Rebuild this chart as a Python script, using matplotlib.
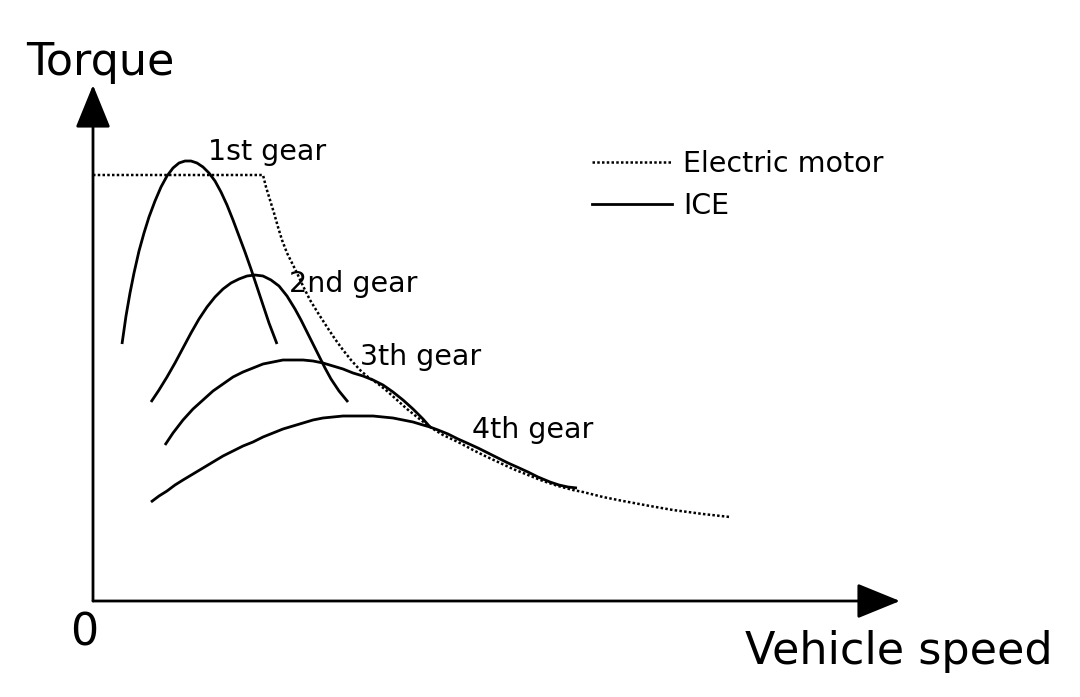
import matplotlib.pyplot as plt
from matplotlib.lines import Line2D

# data (speed, torque)
#
em_speed = [0, 170, 173, 177, 181, 185, 189, 194, 199, 204, 210, 217, 225, 234,
            242, 250, 258, 267, 275, 284, 294, 304, 314, 324, 337, 350, 365, 380,
            390, 405, 420, 435, 450, 465, 480, 490, 510, 530, 557, 580, 610, 637]
em_torque = [426, 426, 414, 401, 388, 374, 361, 348, 338, 328, 315, 301, 288, 274,
             262, 251, 241, 231, 224, 218, 210, 201, 192, 184, 174, 166, 159, 151,
             146, 139, 132, 126, 120, 115, 111, 109, 104, 100, 95, 91, 87, 84]

g1_speed = [29, 33, 37, 41, 46, 51, 56, 62, 68, 74, 80, 86, 92, 98, 104, 110,
            116, 122, 128, 134, 140, 146, 152, 158, 164, 170, 176, 184]
g1_torque = [257, 285, 308, 328, 350, 368, 384, 400, 414, 425, 433, 438, 440, 440,
             438, 434, 428, 420, 409, 396, 381, 365, 349, 332, 314, 296, 278, 257]

g2_speed = [58, 66, 74, 82, 90, 98, 106, 114, 122, 130, 138, 146, 154, 162, 170,
            178, 186, 194, 202, 208, 214, 220, 226, 232, 238, 246, 255]
g2_torque = [199, 211, 224, 238, 253, 268, 282, 294, 304, 312, 318, 322, 325, 326,
             325, 321, 315, 305, 292, 281, 269, 257, 245, 233, 222, 210, 199]

g3_speed = [72, 80, 90, 100, 110, 120, 130, 140, 150, 160, 170, 180, 190, 200,
            210, 220, 230, 240, 250, 260, 270, 280, 290, 300, 310, 320, 330, 337]
g3_torque = [156, 168, 181, 192, 201, 210, 217, 224, 229, 233, 237, 239, 241, 241,
             241, 240, 238, 235, 232, 228, 225, 221, 216, 209, 201, 192, 182, 174]

g4_speed = [58, 66, 74, 82, 90, 100, 110, 120, 130, 140, 150, 160, 170, 180, 190,
            200, 210, 220, 230, 240, 250, 260, 270, 280, 290, 300, 310, 320, 330,
            337, 345, 355, 365, 374, 385, 395, 405, 415, 424, 435, 445, 457, 466,
            475, 484]
g4_torque = [99, 105, 110, 116, 121, 127, 133, 139, 145, 150, 155, 159, 164, 168,
             172, 175, 178, 181, 183, 184, 185, 185, 185, 185, 184, 183, 181, 179,
             176, 174, 171, 167, 162, 158, 153, 148, 143, 138, 134, 129, 124, 119,
             116, 114, 113]

gear_labels = ['1st gear', '2nd gear', '3th gear', '4th gear']
label_speed = [115, 196, 267, 379]
label_torque = [441, 309, 236, 163]

# plot
#
fig = plt.figure(figsize=(10.8, 6.97), dpi=100)
ax = fig.add_axes([0, 0, 1, 1])
ax.set_xlim(-93, 987)
ax.set_ylim(-96, 601)
ax.axis('off')

dots = (0, (1, 0.9))
ax.plot(em_speed, em_torque, color='black', linewidth=1.8, linestyle=dots)
for sp, tq in [(g1_speed, g1_torque), (g2_speed, g2_torque),
               (g3_speed, g3_torque), (g4_speed, g4_torque)]:
    ax.plot(sp, tq, color='black', linewidth=2.0, solid_capstyle='butt')

# axes arrows
#
arrow = dict(arrowstyle='-|>,head_length=1.35,head_width=0.55', color='black',
             lw=2.0, mutation_scale=20, shrinkA=0, shrinkB=0)
ax.annotate('', xy=(0, 516), xytext=(0, 0), arrowprops=arrow)
ax.annotate('', xy=(807, 0), xytext=(0, 0), arrowprops=arrow)

# label
#
for lab, x, y in zip(gear_labels, label_speed, label_torque):
    ax.text(x, y, lab, fontsize=20.5, va='baseline', ha='left')

ax.text(-67, 526, 'Torque', fontsize=32, va='baseline', ha='left')
ax.text(960, -63, 'Vehicle speed', fontsize=32, va='baseline', ha='right')
ax.text(-23, -44, '0', fontsize=32, va='baseline', ha='left')

handles = [Line2D([], [], color='black', linewidth=1.8, linestyle=dots),
           Line2D([], [], color='black', linewidth=2.0)]
ax.legend(handles, ['Electric motor', 'ICE'], loc='upper left',
          bbox_to_anchor=(592 / 1080, 1 - 150 / 697), bbox_transform=fig.transFigure,
          frameon=False, fontsize=20.5, handlelength=2.8, handletextpad=0.4,
          labelspacing=0.5, borderpad=0, borderaxespad=0)

# output
#
plt.savefig('out.png', dpi=100)
